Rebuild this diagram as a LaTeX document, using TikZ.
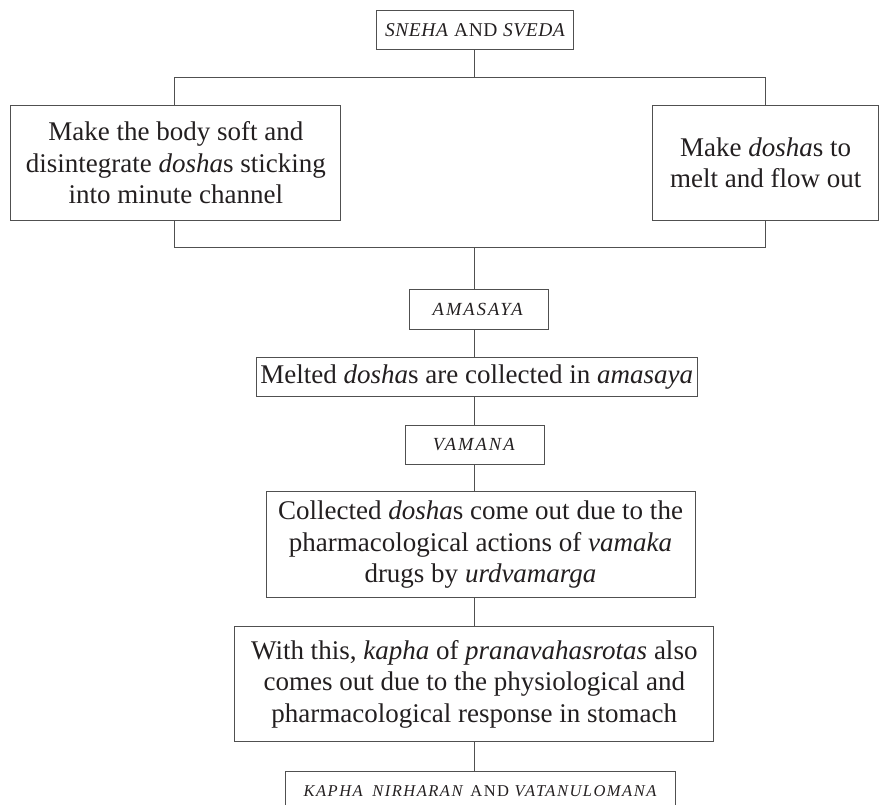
\documentclass[tikz,border=0pt]{standalone}
\usepackage{fontspec}
\setmainfont{Liberation Serif}
\newfontfamily\capsfont[LetterSpace=11]{Liberation Serif}
\newfontfamily\capsfontk[LetterSpace=9]{Liberation Serif}
\newfontfamily\capsfontb[LetterSpace=3]{Liberation Serif}
\definecolor{linegray}{HTML}{505050}
\definecolor{textblack}{HTML}{231F20}
\begin{document}
\begin{tikzpicture}[x=1pt,y=-1pt,
  box/.style={draw=linegray, line width=1pt, inner sep=0pt, align=center, text=textblack,
    font=\fontsize{27pt}{31.5pt}\selectfont},
  tag/.style={draw=linegray, line width=1pt, inner sep=0pt, align=center, text=textblack,
    font=\capsfont\fontsize{18.5pt}{21pt}\selectfont},
  link/.style={draw=linegray, line width=1pt}]
\useasboundingbox (0,0) rectangle (879,805);
\clip (0,0) rectangle (879,805);

% nodes
\node[tag, minimum width=197.3pt, minimum height=39.3pt, font=\capsfontb\fontsize{19.5pt}{22pt}\selectfont] (sneha) at (475.3,30.3) {\textit{SNEHA} AND \textit{SVEDA}};
\node[box, minimum width=329.7pt, minimum height=114.3pt] (left) at (175.8,162.9)
  {Make the body soft and\\ disintegrate \textit{dosha}s sticking\\ into minute channel};
\node[box, minimum width=226pt, minimum height=114.3pt] (right) at (765.7,162.9)
  {Make \textit{dosha}s to\\ melt and flow out};
\node[tag, minimum width=139pt, minimum height=39.7pt] (amasaya) at (478.8,309.2) {\textit{AMASAYA}};
\node[box, minimum width=441.3pt, minimum height=39.4pt] (melted) at (476.7,377)
  {Melted \textit{dosha}s are collected in \textit{amasaya}};
\node[tag, minimum width=139pt, minimum height=39.3pt] (vamana) at (474.8,444.7) {\textit{VAMANA}};
\node[box, minimum width=429pt, minimum height=106.3pt] (collected) at (480.5,544.8)
  {Collected \textit{dosha}s come out due to the\\ pharmacological actions of \textit{vamaka}\\ drugs by \textit{urdvamarga}};
\node[box, minimum width=479pt, minimum height=115pt] (withthis) at (474.3,684.2)
  {With this, \textit{kapha} of \textit{pranavahasrotas} also\\ comes out due to the physiological and\\ pharmacological response in stomach};
\node[tag, minimum width=390.3pt, minimum height=39pt, font=\capsfontk\fontsize{16.5pt}{19pt}\selectfont] (kapha) at (480.8,791.2)
  {\textit{KAPHA}\hspace{0.15em} \textit{NIRHARAN} AND \textit{VATANULOMANA}};

% connectors
\coordinate (tl) at (174,77.7);
\coordinate (tr) at (765.7,77.7);
\coordinate (bl) at (174,247.7);
\coordinate (br) at (765.7,247.7);
\coordinate (spine) at (474.5,0);
\draw[link] (sneha.south -| spine) -- (spine |- tl);
\draw[link] (left.north -| tl) -- (tl) -- (tr) -- (right.north -| tr);
\draw[link] (left.south -| bl) -- (bl) -- (br) -- (right.south -| br);
\draw[link] (spine |- bl) -- (spine |- amasaya.north);
\foreach \a/\b in {amasaya/melted, melted/vamana, vamana/collected, collected/withthis, withthis/kapha}
  \draw[link] (spine |- \a.south) -- (spine |- \b.north);
\end{tikzpicture}
\end{document}
